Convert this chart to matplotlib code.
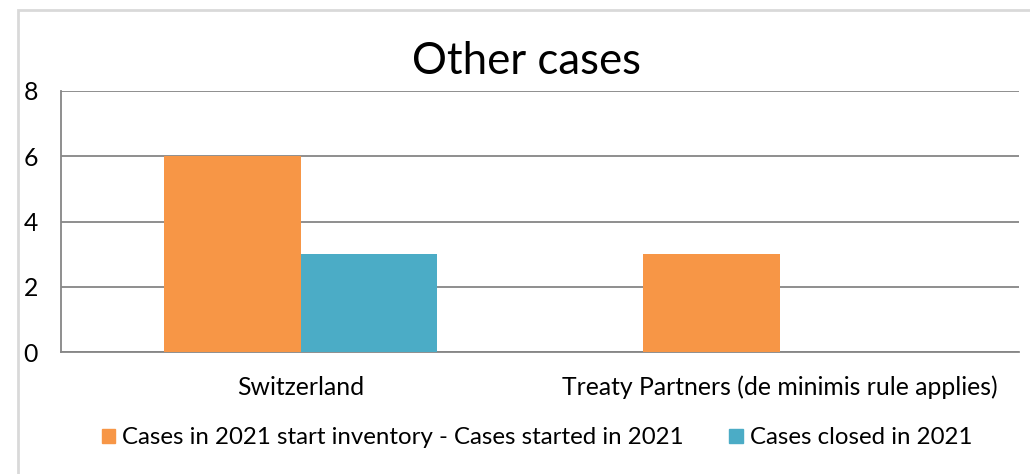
import matplotlib.pyplot as plt
import numpy as np
from matplotlib.patches import Rectangle, Patch

# data
categories = ['Switzerland', 'Treaty Partners (de minimis rule applies)']
started = [6, 3]
closed = [3, 0]
series_names = ['Cases in 2021 start inventory - Cases started in 2021', 'Cases closed in 2021']
yticks = [0, 2, 4, 6, 8]

plt.rcParams['font.family'] = ['Lato', 'DejaVu Sans']

W, H = 1030, 474
fig = plt.figure(figsize=(W / 100, H / 100), dpi=100)

# chart border
fig.patches.append(Rectangle((18 / W, -0.1), 1.2, 1 - 10 / H + 0.1, transform=fig.transFigure,
                             fill=False, edgecolor='#D9D9D9', linewidth=2))

ax = fig.add_axes([61 / W, 1 - 352 / H, (1019 - 61) / W, (352 - 91) / H])
x = np.arange(len(categories))
w = 0.286
ax.bar(x - w / 2, started, w, color='#F79646', zorder=3)
ax.bar(x + w / 2, closed, w, color='#4BACC6', zorder=3)

ax.set_xlim(-0.5, 1.5)
ax.set_ylim(0, 8)
ax.set_yticks(yticks)
ax.set_xticks(x)
ax.set_xticklabels(categories, fontsize=17.8)
for lab in ax.get_yticklabels():
    lab.set_fontsize(17.8)
    lab.set_horizontalalignment('left')
ax.tick_params(axis='y', length=0, pad=27)
ax.tick_params(axis='x', length=0, pad=17)
ax.grid(axis='y', color='#868686', linewidth=1.3, zorder=0)
for s in ['top', 'right']:
    ax.spines[s].set_visible(False)
for s in ['left', 'bottom']:
    ax.spines[s].set_color('#868686')
    ax.spines[s].set_linewidth(1.3)

fig.text(526 / W, 1 - 62 / H, 'Other cases', fontsize=31.5, ha='center', va='center')

handles = [Patch(color='#F79646'), Patch(color='#4BACC6')]
fig.legend(handles, series_names, loc='center', bbox_to_anchor=(537 / W, 1 - 438 / H), ncol=2,
           frameon=False, fontsize=17.3, handlelength=0.55, handleheight=0.55,
           handletextpad=0.3, columnspacing=1.9)

fig.savefig('out.png', dpi=100)
